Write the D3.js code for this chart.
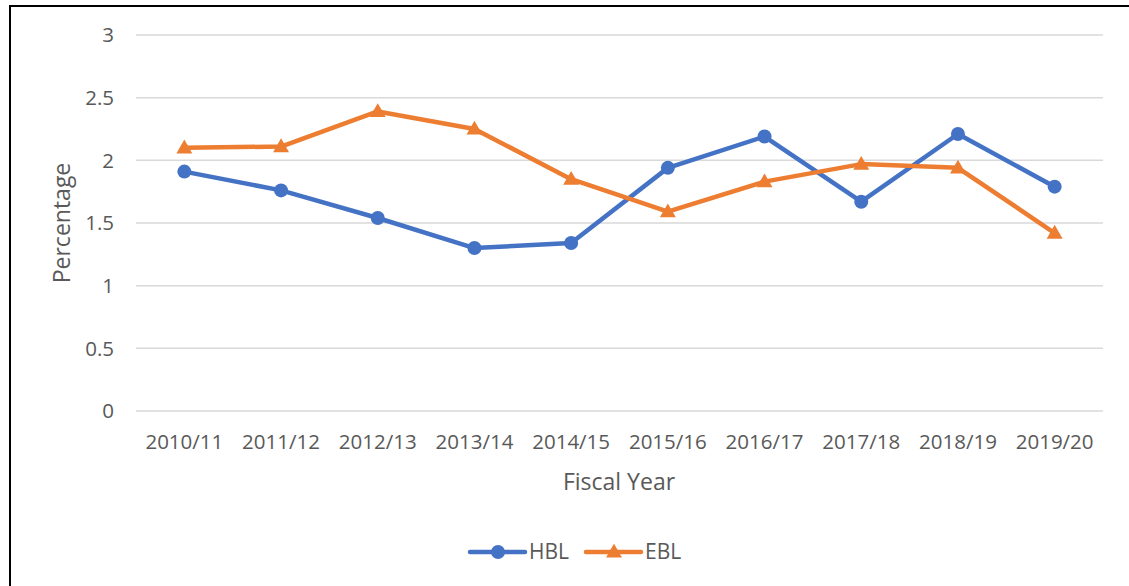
<!DOCTYPE html>
<html><head><meta charset="utf-8">
<script src="https://cdn.jsdelivr.net/npm/d3@7"></script>
<style>body{margin:0;background:#fff}svg{display:block}text{font-family:"Open Sans",sans-serif;fill:#595959}</style>
</head><body>
<svg id="c" width="1129" height="586"></svg>
<script>
const categories = ["2010/11","2011/12","2012/13","2013/14","2014/15","2015/16","2016/17","2017/18","2018/19","2019/20"];
const hbl = [1.91,1.76,1.54,1.30,1.34,1.94,2.19,1.67,2.21,1.79];
const ebl = [2.10,2.11,2.39,2.25,1.85,1.59,1.83,1.97,1.94,1.42];
const yTicks = [0,0.5,1,1.5,2,2.5,3];
const yTickLabels = ["0","0.5","1","1.5","2","2.5","3"];
const seriesNames = ["HBL","EBL"];
const colors = {HBL:"#4472C4", EBL:"#ED7D31"};

const svg = d3.select("#c");
svg.append("rect").attr("x",10).attr("y",6).attr("width",1140).attr("height",600)
  .attr("fill","none").attr("stroke","#000").attr("stroke-width",2);

const x = d3.scaleBand().domain(categories).range([136,1103]);
const y = d3.scaleLinear().domain([0,3]).range([411,35]);

svg.append("g").selectAll("line").data(yTicks).join("line")
  .attr("x1",136).attr("x2",1103).attr("y1",d=>y(d)).attr("y2",d=>y(d))
  .attr("stroke","#d9d9d9").attr("stroke-width",1.5);

svg.append("g").selectAll("text").data(yTicks).join("text")
  .attr("x",114).attr("y",d=>y(d)).attr("dy","0.35em").attr("text-anchor","end")
  .attr("font-size",20.5).text((d,i)=>yTickLabels[i]);

svg.append("g").selectAll("text").data(categories).join("text")
  .attr("x",d=>x(d)+x.bandwidth()/2).attr("y",442).attr("dy","0.35em").attr("text-anchor","middle")
  .attr("font-size",20.5).text(d=>d);

svg.append("text").attr("x",619).attr("y",482).attr("dy","0.35em").attr("text-anchor","middle")
  .attr("font-size",23).text("Fiscal Year");
svg.append("text").attr("transform","translate(62,223) rotate(-90)").attr("dy","0.35em").attr("text-anchor","middle")
  .attr("font-size",23).text("Percentage");

const cx = d=>x(d)+x.bandwidth()/2;
const line = d3.line().x((d,i)=>cx(categories[i])).y(d=>y(d));
const tri = d3.symbol().type(d3.symbolTriangle).size(110);

function drawSeries(vals,name){
  const g = svg.append("g");
  g.append("path").datum(vals).attr("d",line).attr("fill","none").attr("stroke",colors[name])
    .attr("stroke-width",4.5).attr("stroke-linejoin","round").attr("stroke-linecap","round");
  if(name==="HBL"){
    g.selectAll("circle").data(vals).join("circle").attr("cx",(d,i)=>cx(categories[i])).attr("cy",d=>y(d))
      .attr("r",7).attr("fill",colors[name]);
  } else {
    g.selectAll("path.m").data(vals).join("path").attr("class","m").attr("d",tri)
      .attr("transform",(d,i)=>`translate(${cx(categories[i])},${y(d)+1})`).attr("fill",colors[name]);
  }
}
drawSeries(hbl,"HBL");
drawSeries(ebl,"EBL");

const leg = [{name:"HBL",x0:470},{name:"EBL",x0:586}];
leg.forEach(l=>{
  const g = svg.append("g");
  g.append("line").attr("x1",l.x0).attr("x2",l.x0+55).attr("y1",552).attr("y2",552)
    .attr("stroke",colors[l.name]).attr("stroke-width",4.5).attr("stroke-linecap","round");
  if(l.name==="HBL") g.append("circle").attr("cx",l.x0+28).attr("cy",552).attr("r",7).attr("fill",colors[l.name]);
  else g.append("path").attr("d",tri).attr("transform",`translate(${l.x0+28},${553})`).attr("fill",colors[l.name]);
  g.append("text").attr("x",l.x0+59).attr("y",552).attr("dy","0.35em").attr("font-size",21).text(l.name);
});
</script>
</body></html>
